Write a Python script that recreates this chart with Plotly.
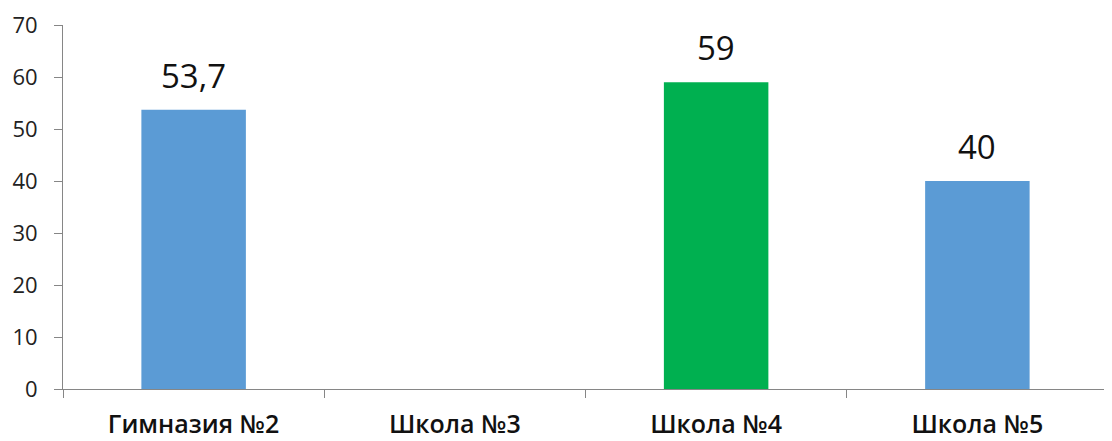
import plotly.graph_objects as go

categories = ["Гимназия №2", "Школа №3", "Школа №4", "Школа №5"]
values = [53.7, None, 59, 40]
colors = ["#5B9BD5", "#5B9BD5", "#00B050", "#5B9BD5"]
y_ticks = [0, 10, 20, 30, 40, 50, 60, 70]

FONT = "Open Sans, Lato, sans-serif"

def fmt(v):
    return ("%g" % v).replace(".", ",")

fig = go.Figure()
fig.add_trace(go.Bar(
    x=categories, y=values, marker=dict(color=colors, line=dict(width=0)),
    width=0.4, showlegend=False, hoverinfo="x+y",
))

for c, v in zip(categories, values):
    if v is None:
        continue
    fig.add_annotation(x=c, y=v, text=fmt(v), showarrow=False,
                       yanchor="bottom", yshift=10,
                       font=dict(family=FONT, size=33, color="#111111"))

fig.update_layout(
    width=1104, height=433,
    margin=dict(l=55, r=4, t=17, b=52, autoexpand=False),
    paper_bgcolor="white", plot_bgcolor="white",
    bargap=0.6,
)
fig.update_xaxes(
    type="category", tickson="boundaries", ticks="outside", ticklen=8,
    tickcolor="#868686", showline=True, linecolor="#868686", linewidth=1,
    showgrid=False, ticklabelstandoff=13, automargin=False,
    tickfont=dict(family=FONT, size=25, color="#111111", weight=600),
)
fig.update_yaxes(
    range=[0, 70], tickvals=y_ticks, ticks="outside", ticklen=8,
    tickcolor="#868686", showline=True, linecolor="#868686", linewidth=1,
    showgrid=False, zeroline=False, ticklabelstandoff=12, automargin=False,
    tickfont=dict(family=FONT, size=22, color="#222222"),
)

fig.write_html("out.html")
